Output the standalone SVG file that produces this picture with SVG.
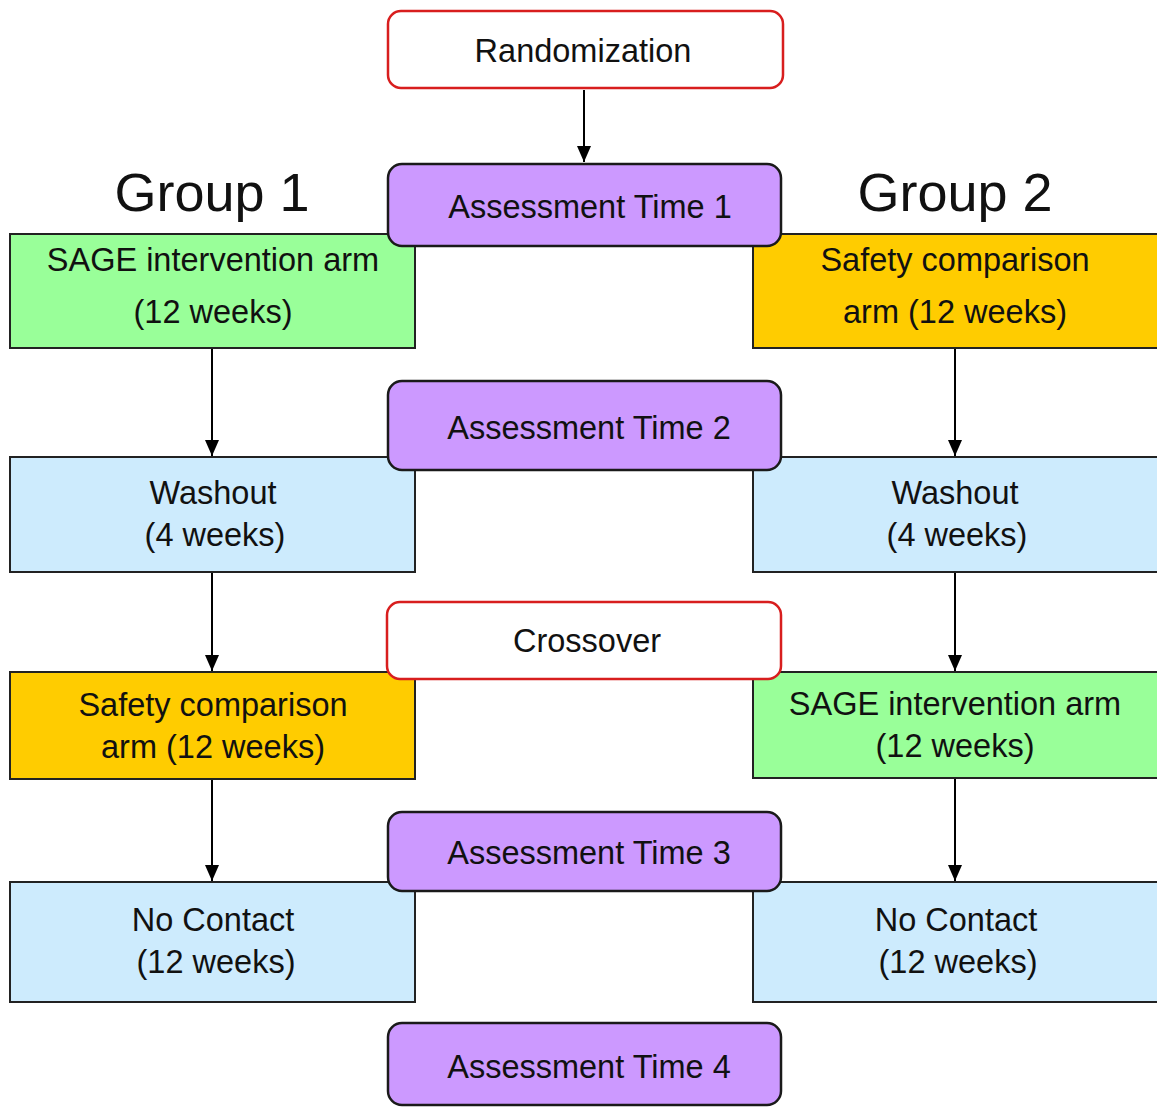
<svg xmlns="http://www.w3.org/2000/svg" width="1157" height="1108" viewBox="0 0 1157 1108">
<defs>
<marker id="ah" viewBox="0 0 10 10" refX="10" refY="5" markerWidth="16" markerHeight="14" markerUnits="userSpaceOnUse" orient="auto" preserveAspectRatio="none">
<path d="M0,0 L10,5 L0,10 z" fill="#000"/>
</marker>
<style>
text{font-family:"Liberation Sans",Arial,sans-serif;fill:#111;text-anchor:middle}
.t{font-size:32.5px}
.g{font-size:54px}
.red{fill:#fff;stroke:#d81e1e;stroke-width:2.5}
.pur{fill:#cc99ff;stroke:#1a1a1a;stroke-width:2.5}
.grn{fill:#99ff99;stroke:#222;stroke-width:2}
.yel{fill:#ffcc00;stroke:#222;stroke-width:2}
.blu{fill:#cdebfd;stroke:#222;stroke-width:2}
.c line{stroke:#000;stroke-width:2;marker-end:url(#ah)}
</style>
</defs>
<rect width="1157" height="1108" fill="#fff"/>
<text class="g" x="212" y="211">Group 1</text>
<text class="g" x="955" y="211">Group 2</text>
<g id="sage1"><rect class="grn" x="10" y="234" width="405" height="114"/><text class="t" x="213" y="271">SAGE intervention arm</text><text class="t" x="213" y="323">(12 weeks)</text></g>
<g id="safety1"><rect class="yel" x="753" y="234" width="410" height="114"/><text class="t" x="955" y="271">Safety comparison</text><text class="t" x="955" y="323">arm (12 weeks)</text></g>
<g id="washout1"><rect class="blu" x="10" y="457" width="405" height="115"/><text class="t" x="213" y="504">Washout</text><text class="t" x="215" y="546">(4 weeks)</text></g>
<g id="washout2"><rect class="blu" x="753" y="457" width="410" height="115"/><text class="t" x="955" y="504">Washout</text><text class="t" x="957" y="546">(4 weeks)</text></g>
<g id="safety2"><rect class="yel" x="10" y="672" width="405" height="107"/><text class="t" x="213" y="716">Safety comparison</text><text class="t" x="213" y="758">arm (12 weeks)</text></g>
<g id="sage2"><rect class="grn" x="753" y="672" width="410" height="106"/><text class="t" x="955" y="715">SAGE intervention arm</text><text class="t" x="955" y="757">(12 weeks)</text></g>
<g id="nocontact1"><rect class="blu" x="10" y="882" width="405" height="120"/><text class="t" x="213" y="931">No Contact</text><text class="t" x="216" y="973">(12 weeks)</text></g>
<g id="nocontact2"><rect class="blu" x="753" y="882" width="410" height="120"/><text class="t" x="956" y="931">No Contact</text><text class="t" x="958" y="973">(12 weeks)</text></g>
<g id="randomization"><rect class="red" x="388" y="11" width="395" height="77" rx="13"/><text class="t" x="583" y="62">Randomization</text></g>
<g id="at1"><rect class="pur" x="388" y="164" width="393" height="82" rx="14"/><text class="t" x="590" y="218">Assessment Time 1</text></g>
<g id="at2"><rect class="pur" x="388" y="381" width="393" height="89" rx="14"/><text class="t" x="589" y="439">Assessment Time 2</text></g>
<g id="crossover"><rect class="red" x="387" y="602" width="394" height="77" rx="13"/><text class="t" x="587" y="652">Crossover</text></g>
<g id="at3"><rect class="pur" x="388" y="812" width="393" height="79" rx="14"/><text class="t" x="589" y="864">Assessment Time 3</text></g>
<g id="at4"><rect class="pur" x="388" y="1023" width="393" height="82" rx="14"/><text class="t" x="589" y="1078">Assessment Time 4</text></g>
<g class="c" id="connectors">
<line x1="584" y1="90" x2="584" y2="162"/>
<line x1="212" y1="349" x2="212" y2="456"/>
<line x1="955" y1="349" x2="955" y2="456"/>
<line x1="212" y1="573" x2="212" y2="671"/>
<line x1="955" y1="573" x2="955" y2="671"/>
<line x1="212" y1="780" x2="212" y2="881"/>
<line x1="955" y1="779" x2="955" y2="881"/>
</g>
</svg>
